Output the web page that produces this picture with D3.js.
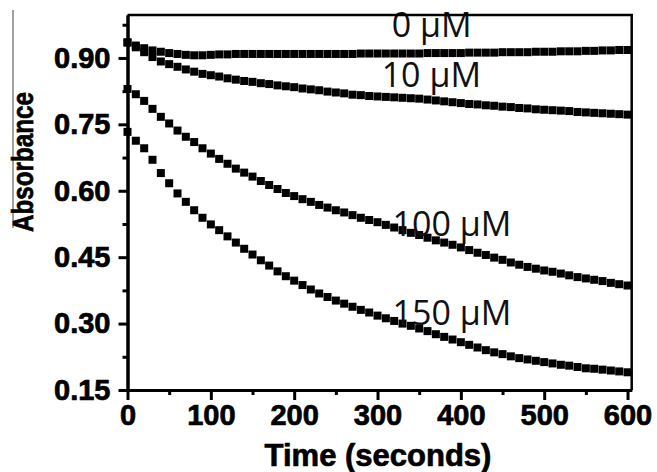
<!DOCTYPE html>
<html>
<head>
<meta charset="utf-8">
<script src="https://cdn.jsdelivr.net/npm/d3@7"></script>
<style>
  body { margin: 0; background: #fff; }
  svg { display: block; }
  .tick text { font-family: "Liberation Sans", Arial, sans-serif; font-weight: bold; font-size: 29px; stroke: #000; stroke-width: 0.7px; }
</style>
</head>
<body>
<svg width="657" height="472"></svg>
<script>
// absorbance vs time, one reading every 10 s
var times = [0, 10, 20, 30, 40, 50, 60, 70, 80, 90,
  100, 110, 120, 130, 140, 150, 160, 170, 180, 190,
  200, 210, 220, 230, 240, 250, 260, 270, 280, 290,
  300, 310, 320, 330, 340, 350, 360, 370, 380, 390,
  400, 410, 420, 430, 440, 450, 460, 470, 480, 490,
  500, 510, 520, 530, 540, 550, 560, 570, 580, 590,
  600];

var abs0 = [0.935, 0.928, 0.922, 0.917, 0.914, 0.911, 0.909, 0.907, 0.906, 0.906,
  0.907, 0.908, 0.908, 0.909, 0.909, 0.909, 0.909, 0.909, 0.909, 0.909,
  0.909, 0.909, 0.909, 0.909, 0.909, 0.909, 0.909, 0.909, 0.910, 0.910,
  0.910, 0.910, 0.910, 0.910, 0.910, 0.910, 0.911, 0.911, 0.911, 0.911,
  0.911, 0.912, 0.912, 0.912, 0.912, 0.913, 0.913, 0.913, 0.913, 0.914,
  0.914, 0.914, 0.915, 0.915, 0.915, 0.916, 0.916, 0.917, 0.917, 0.918,
  0.918];

var abs10 = [0.935, 0.924, 0.913, 0.902, 0.892, 0.886, 0.880, 0.874, 0.869, 0.864,
  0.861, 0.858, 0.854, 0.851, 0.848, 0.846, 0.843, 0.841, 0.838, 0.836,
  0.834, 0.831, 0.829, 0.827, 0.824, 0.822, 0.820, 0.817, 0.816, 0.814,
  0.813, 0.812, 0.811, 0.810, 0.809, 0.808, 0.806, 0.804, 0.802, 0.800,
  0.798, 0.796, 0.795, 0.793, 0.792, 0.790, 0.789, 0.787, 0.786, 0.784,
  0.783, 0.782, 0.781, 0.780, 0.778, 0.777, 0.776, 0.775, 0.774, 0.773,
  0.772];

var abs100 = [0.830, 0.818, 0.803, 0.785, 0.767, 0.752, 0.736, 0.722, 0.710, 0.696,
  0.684, 0.672, 0.661, 0.650, 0.641, 0.632, 0.622, 0.613, 0.604, 0.595,
  0.588, 0.581, 0.575, 0.568, 0.562, 0.556, 0.551, 0.545, 0.539, 0.534,
  0.529, 0.523, 0.517, 0.511, 0.505, 0.500, 0.494, 0.488, 0.483, 0.478,
  0.472, 0.466, 0.460, 0.455, 0.449, 0.444, 0.438, 0.433, 0.428, 0.424,
  0.420, 0.417, 0.413, 0.409, 0.405, 0.402, 0.399, 0.396, 0.392, 0.389,
  0.386];

var abs150 = [0.733, 0.713, 0.696, 0.670, 0.640, 0.617, 0.594, 0.575, 0.556, 0.539,
  0.524, 0.511, 0.497, 0.483, 0.469, 0.456, 0.443, 0.431, 0.418, 0.407,
  0.397, 0.387, 0.377, 0.368, 0.360, 0.352, 0.345, 0.338, 0.331, 0.325,
  0.318, 0.312, 0.306, 0.300, 0.295, 0.289, 0.283, 0.276, 0.270, 0.264,
  0.258, 0.252, 0.246, 0.240, 0.235, 0.231, 0.226, 0.222, 0.219, 0.216,
  0.213, 0.210, 0.207, 0.205, 0.202, 0.199, 0.198, 0.196, 0.194, 0.192,
  0.190];

var seriesNames = ['0 μM', '10 μM', '100 μM', '150 μM'];
var seriesValues = [abs0, abs10, abs100, abs150];
// where each label sits, in data units (time, absorbance at baseline)
var labelTime = [317, 305, 318, 318];
var labelAbs = [0.947, 0.834, 0.498, 0.297];

var xTicks = [0, 100, 200, 300, 400, 500, 600];
var xMinor = [50, 150, 250, 350, 450, 550];
var yTicks = [0.15, 0.30, 0.45, 0.60, 0.75, 0.90];
var yMinor = [0.225, 0.375, 0.525, 0.675, 0.825, 0.975];

var svg = d3.select('svg');

var x = d3.scaleLinear().domain([0, 605]).range([127.5, 631.7]);
var y = d3.scaleLinear().domain([0.15, 0.997]).range([390, 15]);

// stray rule at the far left of the original figure
svg.append('line')
  .attr('x1', 13).attr('x2', 13)
  .attr('y1', 10).attr('y2', 228)
  .attr('stroke', '#444').attr('stroke-width', 1);

var ms = 8;
seriesValues.forEach(function(vals, i){
  svg.append('g').selectAll('rect')
    .data(vals)
    .enter().append('rect')
    .attr('x', function(d, j){ return x(times[j]) - ms/2; })
    .attr('y', function(d){ return y(d) - ms/2; })
    .attr('width', ms)
    .attr('height', ms)
    .attr('fill', '#000');
});

svg.append('g').selectAll('text')
  .data(seriesNames)
  .enter().append('text')
  .attr('x', function(d, i){ return x(labelTime[i]); })
  .attr('y', function(d, i){ return y(labelAbs[i]); })
  .attr('font-family', '"Open Sans", sans-serif')
  .attr('font-size', 34)
  .attr('fill', '#111')
  .text(function(d){ return d; });

// frame top & right
svg.append('path')
  .attr('d', 'M' + x.range()[0] + ',' + y.range()[1] + 'H' + x.range()[1] + 'V' + y.range()[0])
  .attr('fill', 'none').attr('stroke', '#000').attr('stroke-width', 2.5);

var xAxis = svg.append('g')
  .attr('transform', 'translate(0,' + y.range()[0] + ')')
  .call(d3.axisBottom(x).tickValues(xTicks).tickSize(10).tickPadding(4).tickSizeOuter(0)
    .tickFormat(d3.format('d')));
svg.append('g')
  .attr('transform', 'translate(0,' + y.range()[0] + ')')
  .call(d3.axisBottom(x).tickValues(xMinor).tickSize(5).tickSizeOuter(0).tickFormat(''));

var yAxis = svg.append('g')
  .attr('transform', 'translate(' + x.range()[0] + ',0)')
  .call(d3.axisLeft(y).tickValues(yTicks).tickSize(9).tickPadding(8).tickSizeOuter(0)
    .tickFormat(d3.format('.2f')));
svg.append('g')
  .attr('transform', 'translate(' + x.range()[0] + ',0)')
  .call(d3.axisLeft(y).tickValues(yMinor).tickSize(5).tickSizeOuter(0).tickFormat(''));

svg.selectAll('.domain').attr('stroke-width', 3).attr('stroke', '#000');
svg.selectAll('.tick line').attr('stroke-width', 3).attr('stroke', '#000');
svg.selectAll('.tick text').attr('fill', '#000');

svg.append('text')
  .attr('x', 378).attr('y', 466)
  .attr('text-anchor', 'middle')
  .attr('font-family', '"Liberation Sans", Arial, sans-serif')
  .attr('font-weight', 'bold')
  .attr('font-size', 31)
  .attr('stroke', '#000').attr('stroke-width', 0.7)
  .text('Time (seconds)');

svg.append('text')
  .attr('transform', 'translate(33,162) rotate(-90)')
  .attr('text-anchor', 'middle')
  .attr('font-family', '"Liberation Sans", Arial, sans-serif')
  .attr('font-weight', 'bold')
  .attr('font-size', 29)
  .attr('textLength', 140)
  .attr('lengthAdjust', 'spacingAndGlyphs')
  .attr('stroke', '#000').attr('stroke-width', 0.7)
  .text('Absorbance');
</script>
</body>
</html>
